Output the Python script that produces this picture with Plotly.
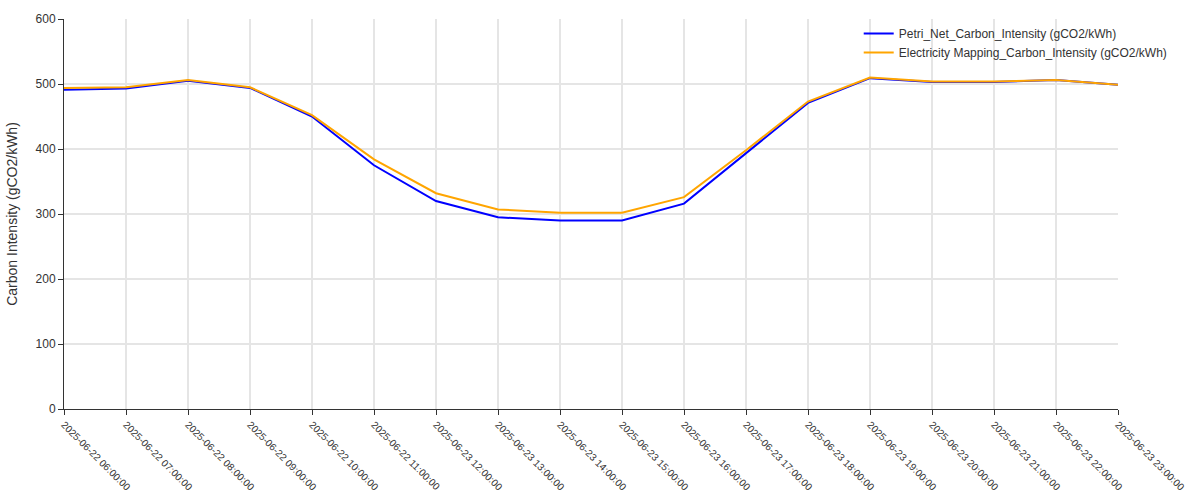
import plotly.graph_objects as go

timestamps = [
    "2025-06-22 06:00:00", "2025-06-22 07:00:00", "2025-06-22 08:00:00",
    "2025-06-22 09:00:00", "2025-06-22 10:00:00", "2025-06-22 11:00:00",
    "2025-06-23 12:00:00", "2025-06-23 13:00:00", "2025-06-23 14:00:00",
    "2025-06-23 15:00:00", "2025-06-23 16:00:00", "2025-06-23 17:00:00",
    "2025-06-23 18:00:00", "2025-06-23 19:00:00", "2025-06-23 20:00:00",
    "2025-06-23 21:00:00", "2025-06-23 22:00:00", "2025-06-23 23:00:00",
]
petri_net = [491, 493, 505, 494, 450, 375, 320, 295, 290, 290, 316, 393,
             471, 509, 503, 503, 506, 499]
electricity_mapping = [494, 495, 506, 495, 452, 384, 332, 307, 302, 302, 326, 398,
                       473, 510, 504, 504, 506, 499]

font_family = "Liberation Sans, Arial, sans-serif"

fig = go.Figure()
fig.add_trace(go.Scatter(
    x=timestamps, y=petri_net, mode="lines",
    name="Petri_Net_Carbon_Intensity (gCO2/kWh)",
    line=dict(color="#0000ff", width=2),
))
fig.add_trace(go.Scatter(
    x=timestamps, y=electricity_mapping, mode="lines",
    name="Electricity Mapping_Carbon_Intensity (gCO2/kWh)",
    line=dict(color="#ffa500", width=2),
))

fig.update_layout(
    width=1200, height=500,
    margin=dict(l=64, r=82, t=19, b=91),
    paper_bgcolor="white", plot_bgcolor="white",
    font=dict(family=font_family, size=12, color="#333333"),
    showlegend=True,
    legend=dict(x=0.754, y=1, xanchor="left", yanchor="top",
                bgcolor="rgba(0,0,0,0)", font=dict(size=12, color="#333333")),
    xaxis=dict(
        type="category", range=[0, len(timestamps) - 1],
        automargin=False,
        showgrid=True, gridcolor="#e5e5e5", gridwidth=2,
        showline=True, linecolor="#333333", linewidth=1,
        ticks="outside", ticklen=5, tickcolor="#333333",
        tickangle=45, tickfont=dict(size=10),
        zeroline=False,
    ),
    yaxis=dict(
        range=[0, 600], dtick=100,
        automargin=False,
        showgrid=True, gridcolor="#e5e5e5", gridwidth=2,
        showline=True, linecolor="#333333", linewidth=1,
        ticks="outside", ticklen=5, tickcolor="#333333",
        zeroline=False,
        title=dict(text="Carbon Intensity (gCO2/kWh)", font=dict(size=14), standoff=14),
    ),
)

fig.write_html("out.html")
